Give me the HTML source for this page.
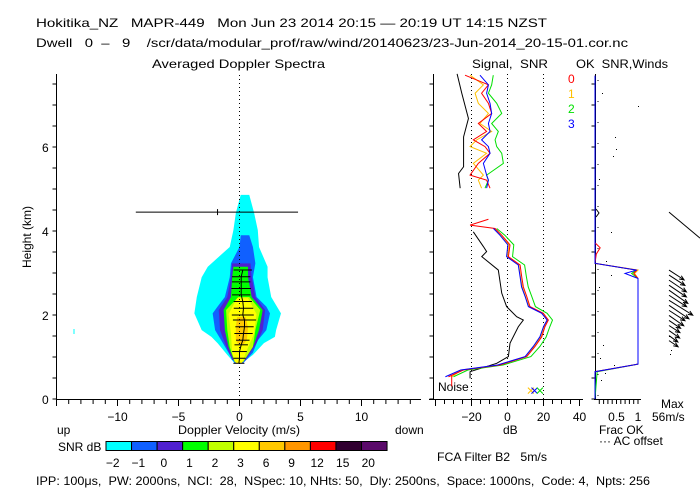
<!DOCTYPE html>
<html><head><meta charset="utf-8"><style>
html,body{margin:0;padding:0;background:#fff;}
svg{display:block;font-family:"Liberation Sans",sans-serif;}
text{font-size:12px;white-space:pre;}
</style></head><body>
<svg id="c" width="700" height="500" viewBox="0 0 700 500" fill="#000" xml:space="preserve">
<rect x="0" y="0" width="700" height="500" fill="#fff"/>
<text x="36" y="27" font-size="14" textLength="511" lengthAdjust="spacingAndGlyphs">Hokitika_NZ   MAPR-449   Mon Jun 23 2014 20:15 — 20:19 UT 14:15 NZST</text>
<text x="36" y="47" font-size="13" textLength="592" lengthAdjust="spacingAndGlyphs">Dwell   0  –   9    /scr/data/modular_prof/raw/wind/20140623/23-Jun-2014_20-15-01.cor.nc</text>
<text x="152" y="68" font-size="13" textLength="173" lengthAdjust="spacingAndGlyphs">Averaged Doppler Spectra</text>
<text x="472" y="68" font-size="13" textLength="76" lengthAdjust="spacingAndGlyphs">Signal,  SNR</text>
<text x="576" y="68" font-size="13" textLength="92" lengthAdjust="spacingAndGlyphs">OK  SNR,Winds</text>
<text x="0" y="0" transform="translate(31,237) rotate(-90)" text-anchor="middle" font-size="12">Height (km)</text>
<text x="57" y="434">up</text>
<text x="395" y="434">down</text>
<text x="178" y="434" textLength="122" lengthAdjust="spacingAndGlyphs">Doppler Velocity (m/s)</text>
<text x="503" y="434">dB</text>
<text x="599" y="434">Frac OK</text>
<text x="599" y="445">··· AC offset</text>
<text x="661" y="408">Max</text>
<text x="652" y="421">56m/s</text>
<text x="58" y="451">SNR dB</text>
<text x="437" y="461" textLength="110" lengthAdjust="spacingAndGlyphs">FCA Filter B2   5m/s</text>
<text x="36" y="485" textLength="614" lengthAdjust="spacingAndGlyphs">IPP: 100μs,  PW: 2000ns,  NCI:  28,  NSpec: 10, NHts: 50,  Dly: 2500ns,  Space: 1000ns,  Code: 4,  Npts: 256</text>
<text x="438" y="391" font-size="11">Noise</text>
</svg>
<script>
// ---- data ----
const heightTicks = [0, 2, 4, 6];
const velTickLabels = [-10, -5, 0, 5, 10];
const dbTickLabels = [-20, 0, 20, 40];
const fracTickLabels = [0.5, 1];
const snrLevels = ["-2","-1","0","1","2","3","6","9","12","15","20"];
const snrColors = ["#00ffff","#1060ff","#5020d0","#00ff00","#c0ff00","#ffff00","#ffc800","#ff9600","#ff0000","#300030","#5a0a6a"];
// contour levels: heights (km), left/right velocity (m/s)
const cyanH = [4.86,4.43,4.02,3.62,3.15,2.9,2.43,2.04,1.64,1.48,1.33,1.05,0.85];
const cyanL = [0.1,-0.3,-0.5,-0.8,-2.6,-3.1,-3.5,-3.7,-3.1,-2.3,-1.8,-1.0,-0.4];
const cyanR = [0.8,1.2,1.5,1.6,2.3,2.3,2.6,3.4,3.0,2.9,2.0,1.1,0.2];
const blueH = [3.9,3.62,3.23,2.9,2.43,2.2,2.04,1.64,1.4,1.1,0.85];
const blueL = [0.1,0.0,-0.7,-0.8,-1.2,-1.8,-2.2,-2.0,-1.5,-0.9,-0.4];
const blueR = [0.8,1.1,1.3,1.1,1.4,2.2,2.5,2.2,1.5,1.1,0.3];
const purpH = [3.23,2.9,2.43,2.12,1.64,1.33,0.93];
const purpL = [-0.6,-0.7,-1.0,-1.7,-1.6,-1.2,-0.6];
const purpR = [0.9,1.0,1.3,2.1,1.9,1.4,0.5];
const greenH = [3.15,2.9,2.43,2.12,1.64,1.24,0.88];
const greenL = [-0.5,-0.6,-0.7,-1.3,-1.2,-0.9,-0.4];
const greenR = [0.7,0.7,1.0,1.9,1.6,1.1,0.3];
const ygH = [2.43,2.12,1.64,1.24,0.88];
const ygL = [-0.1,-1.1,-1.0,-0.8,-0.4];
const ygR = [0.8,1.7,1.3,1.1,0.3];
const yelH = [2.4,2.02,1.56,1.09,0.85];
const yelL = [-0.2,-0.9,-0.7,-0.6,-0.3];
const yelR = [0.7,1.4,1.2,0.5,0.2];
const orgH = [1.95,1.7,1.4,1.3];
const orgL = [-0.2,-0.3,-0.3,-0.1];
const orgR = [0.5,0.7,0.6,0.3];
// spectral width bars
const bwH = [3.07,2.91,2.79,2.63,2.48,2.32,2.16,2.0,1.88,1.72,1.56,1.40,1.29,1.13,0.97,0.85];
const bwMean = [0.27,0.14,0.14,0.14,0.14,0.27,0.33,0.27,0.41,0.41,0.33,0.27,0.14,0.0,0.0,-0.05];
const bwHalf = [0.75,0.75,0.75,0.8,0.75,0.75,0.8,0.9,0.95,0.75,0.75,0.55,0.55,0.6,0.5,0.45];
const topBarH = 4.45, topBarL = -8.5, topBarR = 4.8, topBarMean = -1.8;
// signal panel (dB)
const upH = [7.71,7.48,7.28,7.04,6.80,6.56,6.37,6.17,6.01,5.85,5.61,5.33,5.21,5.02];
const upRed = [-23.6,-10.6,-14.4,-10.6,-8.8,-16.2,-11.6,-19.0,-12.5,-9.7,-16.2,-20.8,-11.6,-9.7];
const upOrange = [-20.8,-13.4,-18.0,-16.2,-10.6,-15.3,-8.8,-17.1,-20.8,-11.6,-19.0,-13.4,-16.2,-14.4];
const upGreen = [-7.9,-8.8,-10.6,-6.0,-3.2,-8.8,-5.1,-6.9,-6.0,-3.2,-2.3,-11.6,-10.6,-12.5];
const upBlue = [-15.3,-10.6,-11.6,-9.7,-8.8,-10.6,-9.7,-14.4,-10.6,-9.7,-13.4,-11.6,-10.6,-11.6];
const upBlackH = [7.74,7.28,6.68,6.24,5.53,5.37,5.02];
const upBlack = [-28,-25.4,-21.7,-24.4,-24.4,-27.2,-26.3];
const loH = [4.28,4.14,4.06,3.90,3.67,3.39,3.19,2.91,2.67,2.44,2.20,2.04,1.88,1.72,1.48,1.25,1.01,0.81,0.69,0.53];
const loRed = [-10.6,-20.8,-6.9,-3.2,1.4,0.5,7.0,7.9,8.8,10.7,12.5,19.9,22.7,20.8,19.0,15.3,10.7,-4.2,-24.5,-32.8];
const loOrange = [null,null,-7.5,-4.0,0.8,0.0,6.3,7.2,8.2,10.0,12.0,19.5,22.3,20.3,18.4,14.7,10.0,-5.0,-25.5,-31.0];
const loGreen = [null,null,-6.0,-1.5,3.5,2.8,9.5,10.5,11.5,13.5,15.5,22.0,25.0,23.5,21.5,18.0,13.0,-2.5,-22.0,-30.0];
const loBlue = [null,null,-7.8,-4.2,0.2,-0.5,6.0,7.0,7.8,9.8,11.6,19.0,22.0,20.0,18.0,14.3,9.8,-5.5,-26.0,-34.5];
const loBlackH = [3.98,3.63,3.51,3.39,3.07,2.52,2.20,1.96,1.88,1.72,1.33,1.01,0.85,0.65,0.49];
const loBlack = [-19,-13.4,-11.6,-14.3,-5.1,-3.2,-0.5,5.1,8.8,6.0,1.4,0.5,-6.0,-20.8,-20.8];
// winds panel fraction OK
const fracH = [7.7,3.72,3.60,3.45,3.23,3.07,2.99,2.87,0.83,0.65,0.0];
const fracBlue = [0,0,0,0,0,0.97,0.7,1.0,1.0,0,0];
const fracRed = [0,0,0.12,0.03,0,0.97,0.9,1.0,1.0,0,0];
const fracOrange = [0,0,0,0,0,1.0,0.92,1.0,1.0,0,0];
const fracGreen = [0,0,0,0,0,0.97,0.85,1.0,1.0,0.05,0];
// wind arrows
const windH = [3.07,2.95,2.83,2.71,2.59,2.47,2.35,2.23,2.11,1.99,1.87,1.75,1.63,1.51,1.39];
const windLen = [18,19,21,21,23,21,28,24,19,18,14,13,13,11,11];
const windDir = [33,33,34,34,35,33,32,34,33,35,34,33,35,36,34];

// ---- axes ----
const NS = "http://www.w3.org/2000/svg";
const svg = document.getElementById('c');
const Y0 = 399, KM = 42;
const yH = h => Y0 - h * KM;
const xV = v => 239.5 + v * 12.2;
const xDB = d => 507.5 + d * 1.8;
const xF = f => 595 + f * 43;
function mk(tag, attrs, parent) {
  const e = document.createElementNS(NS, tag);
  for (const k in attrs) e.setAttribute(k, attrs[k]);
  (parent || svg).appendChild(e);
  return e;
}
let el;
function contour(H, L, R, color, name) {
  const pts = [];
  for (let i = 0; i < H.length; i++) pts.push(xV(L[i]) + ',' + yH(H[i]));
  for (let i = H.length - 1; i >= 0; i--) pts.push(xV(R[i]) + ',' + yH(H[i]));
  const e = mk('polygon', {points: pts.join(' '), fill: color, stroke: 'none'});
  
  
}
contour(cyanH, cyanL, cyanR, snrColors[0], 'contour-snr-minus2');
contour(blueH, blueL, blueR, snrColors[1], 'contour-snr-minus1');
contour(purpH, purpL, purpR, snrColors[2], 'contour-snr-0');
contour(greenH, greenL, greenR, snrColors[3], 'contour-snr-1');
contour(ygH, ygL, ygR, snrColors[4], 'contour-snr-2');
contour(yelH, yelL, yelR, snrColors[5], 'contour-snr-3');
contour(orgH, orgL, orgR, snrColors[6], 'contour-snr-6');
el = mk('line', {x1: 74, y1: 329, x2: 74, y2: 334, stroke: '#00ffff'});


el = mk('line', {x1: xV(0), y1: 75, x2: xV(0), y2: 399, stroke: '#000', 'stroke-dasharray': '1,3'});


for (let i = 0; i < bwH.length; i++) {
  el = mk('line', {x1: xV(bwMean[i] - bwHalf[i]), y1: yH(bwH[i]), x2: xV(bwMean[i] + bwHalf[i]), y2: yH(bwH[i]), stroke: '#000', 'stroke-width': 1});
  
  
}
el = mk('polyline', {points: bwH.map((h, i) => xV(bwMean[i]) + ',' + yH(h)).join(' '), fill: 'none', stroke: '#000'});


el = mk('line', {x1: xV(topBarL), y1: yH(topBarH), x2: xV(topBarR), y2: yH(topBarH), stroke: '#000'});


el = mk('line', {x1: xV(topBarMean), y1: yH(topBarH) - 3, x2: xV(topBarMean), y2: yH(topBarH) + 3, stroke: '#000'});



el = mk('line', {x1: 56.5, y1: 74, x2: 56.5, y2: 399.5, stroke: '#000'});


el = mk('line', {x1: 56, y1: 399.5, x2: 421, y2: 399.5, stroke: '#000'});


for (let h = 0; h <= 7.5; h += 0.5) {
  for (const ax of [56.5, 433.5, 595.5]) {
    el = mk('line', {x1: ax - 4, y1: yH(h), x2: ax, y2: yH(h), stroke: '#000'});
    
    
  }
}
heightTicks.forEach(h => {
  el = mk('text', {x: 42, y: yH(h) + 5});
  el.textContent = h;
  
  
});
for (let v = -15; v <= 14; v++) {
  el = mk('line', {x1: xV(v), y1: 399.5, x2: xV(v), y2: v % 5 === 0 ? 406 : 404, stroke: '#000'});
  
  
}
velTickLabels.forEach(v => {
  el = mk('text', {x: xV(v), y: 421, 'text-anchor': 'middle'});
  el.textContent = v < 0 ? '−' + Math.abs(v) : v;
  
  
});

el = mk('line', {x1: 433.5, y1: 74, x2: 433.5, y2: 399.5, stroke: '#000'});


el = mk('line', {x1: 429, y1: 399.5, x2: 583, y2: 399.5, stroke: '#000'});


for (let d = -40; d <= 40; d += 5) {
  if (xDB(d) < 429) continue;
  el = mk('line', {x1: xDB(d), y1: 399.5, x2: xDB(d), y2: d % 20 === 0 ? 406 : 404, stroke: '#000'});
  
  
}
dbTickLabels.forEach(d => {
  el = mk('text', {x: xDB(d), y: 421, 'text-anchor': 'middle'});
  el.textContent = d < 0 ? '−' + Math.abs(d) : d;
  
  
});
[-20, 0, 20].forEach(d => {
  el = mk('line', {x1: xDB(d), y1: 74, x2: xDB(d), y2: 399, stroke: '#000', 'stroke-dasharray': '1,3'});
  
  
});
function series(H, D, color, name, xf) {
  let seg = [];
  const segs = [];
  for (let i = 0; i < H.length; i++) {
    if (D[i] === null) { if (seg.length) segs.push(seg); seg = []; continue; }
    seg.push(xf(D[i]) + ',' + yH(H[i]));
  }
  if (seg.length) segs.push(seg);
  segs.forEach(s => {
    const e = mk('polyline', {points: s.join(' '), fill: 'none', stroke: color, 'stroke-width': 1});
    
    
  });
}
series(upBlackH, upBlack, '#000', 'signal-line-upper', xDB);
series(loBlackH, loBlack, '#000', 'signal-line-lower', xDB);
series(upH, upGreen, '#00e000', 'snr-beam2-upper', xDB);
series(upH, upOrange, '#ffc000', 'snr-beam1-upper', xDB);
series(upH, upRed, '#ff0000', 'snr-beam0-upper', xDB);
series(upH, upBlue, '#0000ff', 'snr-beam3-upper', xDB);
series(loH, loGreen, '#00e000', 'snr-beam2-lower', xDB);
series(loH, loOrange, '#ffc000', 'snr-beam1-lower', xDB);
series(loH, loRed, '#ff0000', 'snr-beam0-lower', xDB);
series(loH, loBlue, '#0000ff', 'snr-beam3-lower', xDB);
el = mk('line', {x1: xDB(-31), y1: yH(0.55), x2: xDB(-31), y2: yH(0.3), stroke: '#ff0000'});


[['#ffc000', 13], ['#0000ff', 15], ['#00e000', 18]].forEach(([c, d]) => {
  el = mk('path', {d: `M${xDB(d)-3},${yH(0.2)-3}l6,6m0,-6l-6,6`, stroke: c, fill: 'none'});
  
  
});
[['0', '#ff0000', 83], ['1', '#ffc000', 98], ['2', '#00e000', 113], ['3', '#0000ff', 128]].forEach(([t, c, y]) => {
  el = mk('text', {x: 568, y: y, fill: c});
  el.textContent = t;
  
  
});

el = mk('line', {x1: 595.5, y1: 74, x2: 595.5, y2: 399.5, stroke: '#000'});


el = mk('line', {x1: 594, y1: 399.5, x2: 641, y2: 399.5, stroke: '#000'});


for (let f = 0.1; f <= 1.01; f += 0.1) {
  el = mk('line', {x1: xF(f), y1: 399.5, x2: xF(f), y2: 404, stroke: '#000'});
  
  
}
fracTickLabels.forEach(f => {
  el = mk('text', {x: xF(f), y: 421, 'text-anchor': 'middle'});
  el.textContent = f;
  
  
});
el = mk('line', {x1: 598, y1: 80, x2: 598, y2: 399, stroke: '#000', 'stroke-dasharray': '1,20'});


series(fracH, fracGreen, '#00e000', 'frac-ok-beam2', xF);
series(fracH, fracOrange, '#ffc000', 'frac-ok-beam1', xF);
series(fracH, fracRed, '#ff0000', 'frac-ok-beam0', xF);
series(fracH, fracBlue, '#0000ff', 'frac-ok-beam3', xF);
el = mk('polyline', {points: '596,209 599,213 596,217', fill: 'none', stroke: '#000'});


[[602,93],[638,106],[615,137],[616,149],[613,156],[599,179],[611,232],[606,261],[611,275],[599,287],[603,345],[600,358],[605,373],[601,380],[614,365],[669,336],[671,350],[670,354]].forEach(([x, y]) => {
  el = mk('rect', {x: x, y: y, width: 1, height: 1, fill: '#000'});
  
  
});
const WX = 669;
for (let i = 0; i < windH.length; i++) {
  const a = windDir[i] * Math.PI / 180;
  const x2 = WX + windLen[i] * Math.cos(a), y2 = yH(windH[i]) + windLen[i] * Math.sin(a);
  const b1 = a + Math.PI - 0.4, b2 = a + Math.PI + 0.4;
  el = mk('path', {d: `M${WX},${yH(windH[i])}L${x2},${y2}M${x2 + 5*Math.cos(b1)},${y2 + 5*Math.sin(b1)}L${x2},${y2}L${x2 + 5*Math.cos(b2)},${y2 + 5*Math.sin(b2)}`, stroke: '#000', fill: 'none'});
  
  
}
el = mk('line', {x1: 669, y1: yH(topBarH), x2: 700, y2: yH(topBarH) + 26, stroke: '#000'});



const CB0 = 106, CBW = 25.55;
snrLevels.forEach((lab, i) => {
  el = mk('rect', {x: CB0 + i * CBW, y: 441.5, width: CBW, height: 9, fill: snrColors[i], stroke: '#000', 'stroke-width': 1});
  
  
  el = mk('text', {x: CB0 + i * CBW + CBW / 2 - 6, y: 467, 'text-anchor': 'middle'});
  el.textContent = lab.replace('-', '−');
  
  
});
</script>
</body></html>
